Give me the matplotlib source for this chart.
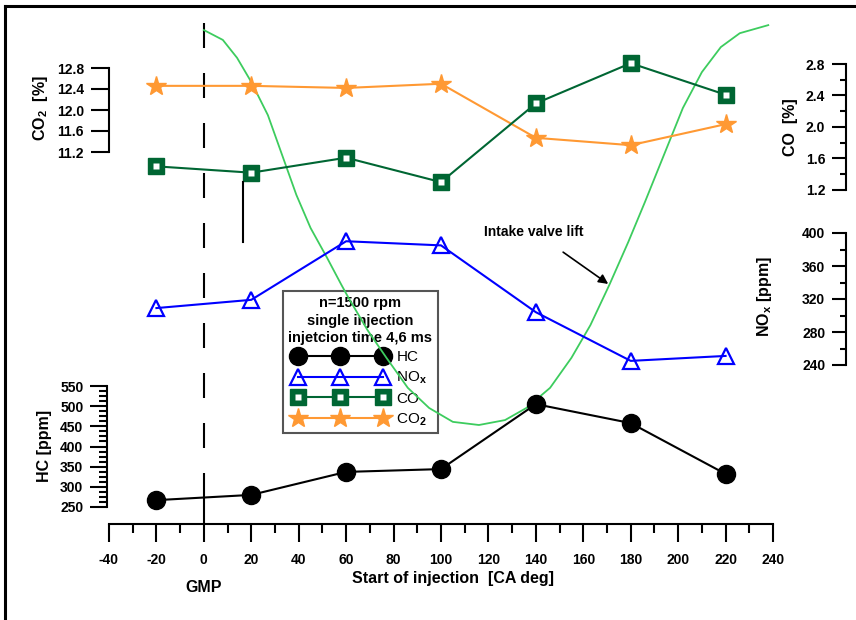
import numpy as np
import matplotlib
matplotlib.use("Agg")
import matplotlib.pyplot as plt
from matplotlib.lines import Line2D
from matplotlib.legend_handler import HandlerTuple

plt.rcParams['font.family'] = ['Liberation Sans', 'DejaVu Sans']
plt.rcParams['font.weight'] = 'bold'
plt.rcParams['axes.unicode_minus'] = False
plt.rcParams['mathtext.fontset'] = 'custom'
plt.rcParams['mathtext.rm'] = 'Liberation Sans'
plt.rcParams['mathtext.bf'] = 'Liberation Sans:bold'
plt.rcParams['mathtext.it'] = 'Liberation Sans:italic'

# start of injection [CA deg]
soi = [-20, 20, 60, 100, 140, 180, 220]
hc = [267, 280, 337, 344, 505, 458, 332]          # ppm
nox = [309, 319, 390, 385, 304, 245, 251]         # ppm
co = [1.50, 1.42, 1.61, 1.30, 2.30, 2.81, 2.41]   # %
co2 = [12.46, 12.46, 12.42, 12.50, 11.47, 11.33, 11.73]  # %

# intake valve lift (plotted on an inverted hidden scale)
lift_ca = [0, 8, 14, 20, 27, 33, 39, 45, 52, 58, 61, 69, 77, 86, 95, 105, 116,
           127, 136, 146, 155, 163, 171, 179, 186, 194, 202, 210, 218, 226, 238]
lift_mm = [0.18, 0.40, 0.80, 1.34, 2.08, 2.97, 3.86, 4.60, 5.27, 5.87, 6.16, 6.88,
           7.50, 8.17, 8.62, 8.93, 9.00, 8.89, 8.62, 8.17, 7.50, 6.77, 5.87, 4.91,
           4.02, 2.97, 1.92, 1.12, 0.56, 0.25, 0.07]

x_ticks = list(range(-40, 241, 20))
co2_ticks = [11.2, 11.6, 12.0, 12.4, 12.8]
co_ticks = [1.2, 1.6, 2.0, 2.4, 2.8]
nox_ticks = [240, 280, 320, 360, 400]
hc_ticks = [250, 300, 350, 400, 450, 500, 550]

legend_title = "n=1500 rpm\nsingle injection\ninjetcion time 4,6 ms"

W, H = 856, 620
X0, X1 = 109, 773
fig = plt.figure(figsize=(W / 100, H / 100), dpi=100)


def px_axes(top, bottom, z):
    ax = fig.add_axes([X0 / W, 1 - bottom / H, (X1 - X0) / W, (bottom - top) / H], zorder=z)
    ax.patch.set_visible(False)
    ax.set_xlim(-40, 240)
    return ax


def side_axis(ax, ylim, ticks, minor, fmt, pos, major_len, minor_len):
    for s in ['top', 'right', 'bottom']:
        ax.spines[s].set_visible(False)
    ax.spines['left'].set_position(('axes', pos))
    ax.spines['left'].set_linewidth(1.5)
    ax.set_xticks([])
    ax.set_ylim(*ylim)
    ax.set_yticks(ticks)
    ax.set_yticklabels([fmt.format(t) for t in ticks])
    if minor:
        ax.set_yticks(np.arange(ylim[0], ylim[1] + 1e-9, minor), minor=True)
    ax.tick_params(axis='y', which='major', length=major_len, width=1.5, labelsize=10, pad=5)
    ax.tick_params(axis='y', which='minor', length=minor_len, width=1.5)


# main axes: x axis only
ax = px_axes(15, 524, 1)
for s in ['top', 'right', 'left']:
    ax.spines[s].set_visible(False)
ax.spines['bottom'].set_bounds(-40, 240)
ax.spines['bottom'].set_linewidth(1.5)
ax.set_yticks([])
ax.set_ylim(0, 1)
ax.set_xticks(x_ticks)
ax.set_xticks(range(-30, 240, 20), minor=True)
ax.tick_params(axis='x', which='major', length=13, width=1.5, labelsize=10, pad=8)
ax.tick_params(axis='x', which='minor', length=6.5, width=1.5)

ax_lift = px_axes(22, 425, 2)
ax_lift.axis('off')
ax_lift.set_ylim(9.0, 0.0)
ax_lift.plot(lift_ca, lift_mm, color='#3dcc5e', lw=1.3, clip_on=False)
ax_lift.text(118, 4.69, "Intake valve lift", fontsize=10, va='center', ha='left')
ax_lift.annotate("", xy=(170.5, 5.85), xytext=(151.5, 5.14),
                 arrowprops=dict(arrowstyle='-|>', color='black', lw=1.2,
                                 mutation_scale=14, shrinkA=0, shrinkB=0))

ax_co2 = px_axes(68, 152, 3)
side_axis(ax_co2, (11.2, 12.8), co2_ticks, None, '{:.1f}', 0, 13, 0)
ax_co = px_axes(64, 190, 4)
side_axis(ax_co, (1.2, 2.8), co_ticks, 0.2, '{:.1f}', (846 - X0) / (X1 - X0), 10, 4.5)
ax_nox = px_axes(233, 365, 5)
side_axis(ax_nox, (240, 400), nox_ticks, 20, '{:d}', (846 - X0) / (X1 - X0), 10, 4.5)
ax_hc = px_axes(386, 507, 6)
side_axis(ax_hc, (250, 550), hc_ticks, 12.5, '{:d}', -0.003, 12, 6)

l_co2, = ax_co2.plot(soi, co2, color='#ff9933', lw=1.5, marker='*', ms=15,
                     mec='#ff9933', clip_on=False)
l_co, = ax_co.plot(soi, co, color='#006633', lw=1.5, marker='s', ms=12,
                   mfc='#006633', mec='#006633', clip_on=False)
l_co_in, = ax_co.plot(soi, co, ls='none', marker='s', ms=4, mfc='white',
                      mec='none', clip_on=False)
l_nox, = ax_nox.plot(soi, nox, color='#0000ff', lw=1.5, marker='^', ms=12,
                     mfc='none', mec='#0000ff', mew=1.6, clip_on=False)
l_hc, = ax_hc.plot(soi, hc, color='black', lw=1.5, marker='o', ms=13, clip_on=False)

# GMP line: dashed above the HC curve, solid below it
hc0 = np.interp(0, soi, hc)
y_disp = ax_hc.transData.transform((0, hc0))[1]
y_frac = ax.transAxes.inverted().transform((0, y_disp))[1]
ax.axvline(0, ymin=y_frac, ymax=0.985, color='black', lw=1.5, dashes=(12, 12))
ax.axvline(0, ymin=0, ymax=y_frac, color='black', lw=1.5)
ax_co.axvline(16.5, ymin=-0.41, ymax=0.06, color='black', lw=1.5, clip_on=False)


# axis titles
def ftext(x, y, s, **kw):
    fig.text(x / W, 1 - y / H, s, ha='center', va='center', **kw)


ftext(40, 108, r'CO$_\mathbf{2}$  [%]', rotation=90, fontsize=11.5)
ftext(790, 127, 'CO  [%]', rotation=90, fontsize=11.5)
ftext(765, 297, r'NO$_\mathbf{x}$ [ppm]', rotation=90, fontsize=11.5)
ftext(44, 446, 'HC [ppm]', rotation=90, fontsize=11.5)
ftext(453, 578, 'Start of injection  [CA deg]', fontsize=11.5)
ftext(204, 587, 'GMP', fontsize=11.5)

leg = ax.legend([l_hc, l_nox, (l_co, l_co_in), l_co2],
                ['HC', r'NO$_\mathrm{x}$', 'CO', r'CO$_\mathrm{2}$'],
                handler_map={tuple: HandlerTuple(ndivide=1)},
                title=legend_title, title_fontproperties={'weight': 'bold', 'size': 10.5},
                prop={'weight': 'normal', 'size': 11}, numpoints=3,
                handlelength=6.15, handletextpad=0.6, labelspacing=0.36,
                borderpad=0.35, borderaxespad=0, fancybox=False, framealpha=1,
                edgecolor='#555555', loc='upper left',
                bbox_to_anchor=(283 / W, 1 - 291 / H), bbox_transform=fig.transFigure)
leg.get_title().set_multialignment('center')
leg.get_title().set_linespacing(1.3)
leg.get_frame().set_linewidth(1.5)

# page frame
fig.add_artist(Line2D([5 / W, 5 / W], [0, 1 - 6 / H], color='black', lw=2.2))
fig.add_artist(Line2D([5 / W, 1], [1 - 6 / H, 1 - 6 / H], color='black', lw=2.2))

fig.savefig('out.png', dpi=100)
